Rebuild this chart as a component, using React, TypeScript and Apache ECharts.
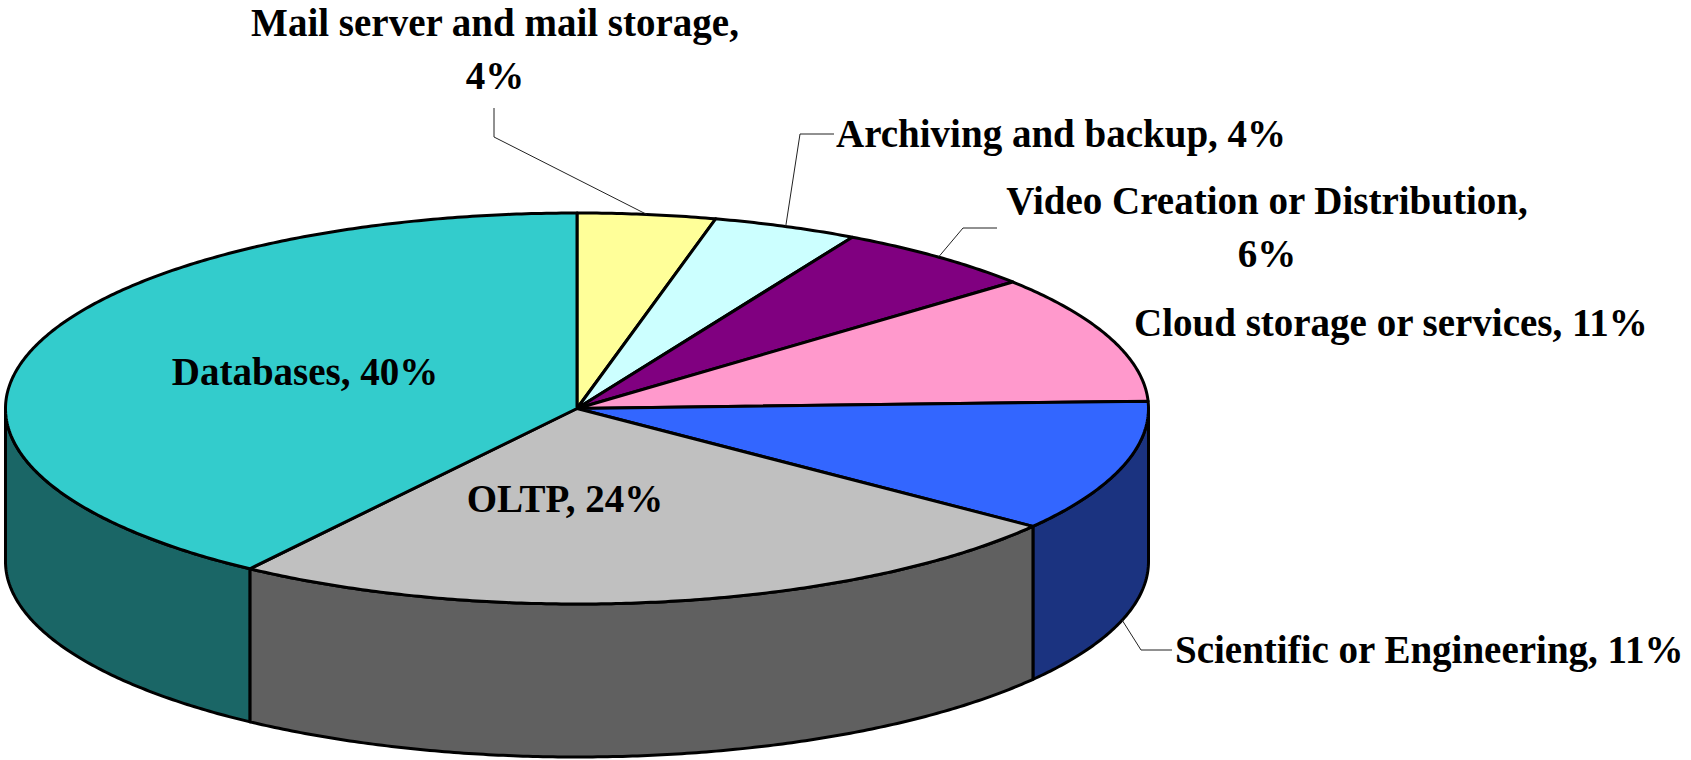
import React, { useEffect, useRef } from "react";
import * as echarts from "echarts";

// ---- data ----
const categories = [
  "Mail server and mail storage",
  "Archiving and backup",
  "Video Creation or Distribution",
  "Cloud storage or services",
  "Scientific or Engineering",
  "OLTP",
  "Databases",
];
const shares = [3.9, 4.1, 5.8, 10.6, 10.9, 24.4, 40.3];

// ---- styles / layout ----
const topColors = ["#FFFF99", "#CCFFFF", "#800080", "#FF99CC", "#3366FF", "#C0C0C0", "#33CCCC"];
const sideColors = ["#80804C", "#668080", "#400040", "#804C66", "#1B3380", "#606060", "#1A6666"];

const CX = 577;
const CY = 408.5;
const RX = 571.5;
const RY = 195.5;
const DEPTH = 153;

type LabelLayout = {
  x: number;
  y: number;
  align: "left" | "center" | "right";
  breakLine: boolean;
  leader: number[][] | null;
  leaderEnd: "top" | "bottom";
};

const labelLayout: LabelLayout[] = [
  { x: 495, y: 49, align: "center", breakLine: true, leader: [[494, 108], [494, 137]], leaderEnd: "top" },
  { x: 836, y: 133, align: "left", breakLine: false, leader: [[834, 134], [800, 134]], leaderEnd: "top" },
  { x: 1267, y: 227, align: "center", breakLine: true, leader: [[997, 228], [963, 228]], leaderEnd: "top" },
  { x: 1134, y: 322, align: "left", breakLine: false, leader: null, leaderEnd: "top" },
  { x: 1175, y: 649, align: "left", breakLine: false, leader: [[1172, 650], [1141, 650]], leaderEnd: "bottom" },
  { x: 565, y: 498, align: "center", breakLine: false, leader: null, leaderEnd: "top" },
  { x: 305, y: 371, align: "center", breakLine: false, leader: null, leaderEnd: "top" },
];

const FONT = 'bold 39px "Liberation Serif", "Times New Roman", serif';

function pt(deg: number, dy = 0): number[] {
  const t = (deg * Math.PI) / 180;
  return [CX + RX * Math.sin(t), CY - RY * Math.cos(t) + dy];
}

function arc(a0: number, a1: number, dy = 0): number[][] {
  const pts: number[][] = [];
  const step = 0.5;
  if (a1 >= a0) {
    for (let a = a0; a < a1; a += step) pts.push(pt(a, dy));
  } else {
    for (let a = a0; a > a1; a -= step) pts.push(pt(a, dy));
  }
  pts.push(pt(a1, dy));
  return pts;
}

export default function App() {
  const ref = useRef<HTMLDivElement>(null);

  useEffect(() => {
    if (!ref.current) return;
    const chart = echarts.init(ref.current, undefined, { renderer: "svg" });
    const total = shares.reduce((s, v) => s + v, 0);

    const renderItem = (params: any, api: any) => {
      const i = params.dataIndex;
      const v = api.value(0);
      let start = 0;
      for (let j = 0; j < i; j++) start += shares[j];
      const a0 = (start / total) * 360;
      const a1 = ((start + v) / total) * 360;
      const children: any[] = [];

      // top face
      const topPts = [[CX, CY], ...arc(a0, a1)];
      children.push({
        type: "polygon",
        shape: { points: topPts },
        style: { fill: topColors[i], stroke: "#000", lineWidth: 3, lineJoin: "round" },
        z2: 20,
      });

      // visible side wall (front half)
      const s0 = Math.max(a0, 90);
      const s1 = Math.min(a1, 270);
      if (s1 > s0) {
        const sidePts = [...arc(s0, s1), ...arc(s1, s0, DEPTH)];
        children.push({
          type: "polygon",
          shape: { points: sidePts },
          style: { fill: sideColors[i], stroke: "#000", lineWidth: 3, lineJoin: "round" },
          z2: 5,
        });
      }

      // label
      const lay = labelLayout[i];
      const pct = Math.round((v / total) * 100) + "%";
      const text = categories[i] + "," + (lay.breakLine ? "\n" : " ") + pct;
      children.push({
        type: "text",
        x: lay.x,
        y: lay.y,
        style: {
          text,
          font: FONT,
          fill: "#000",
          align: lay.align,
          verticalAlign: "middle",
          textAlign: lay.align,
          textVerticalAlign: "middle",
          lineHeight: 53,
        },
        z2: 40,
      });

      if (lay.leader) {
        const mid = (a0 + a1) / 2;
        const end = pt(mid, lay.leaderEnd === "bottom" ? DEPTH : 0);
        children.push({
          type: "polyline",
          shape: { points: [...lay.leader, end] },
          style: { stroke: "#222", lineWidth: 1, fill: null },
          z2: 30,
        });
      }

      return { type: "group", children };
    };

    chart.setOption({
      animation: false,
      backgroundColor: "#ffffff",
      series: [
        {
          type: "custom",
          coordinateSystem: "none",
          renderItem,
          data: shares.map((v, i) => ({ name: categories[i], value: [v] })),
          silent: true,
        },
      ],
    });

    return () => chart.dispose();
  }, []);

  return (
    <div
      ref={ref}
      style={{ position: "absolute", left: 0, top: 0, width: 1691, height: 760 }}
    />
  );
}
